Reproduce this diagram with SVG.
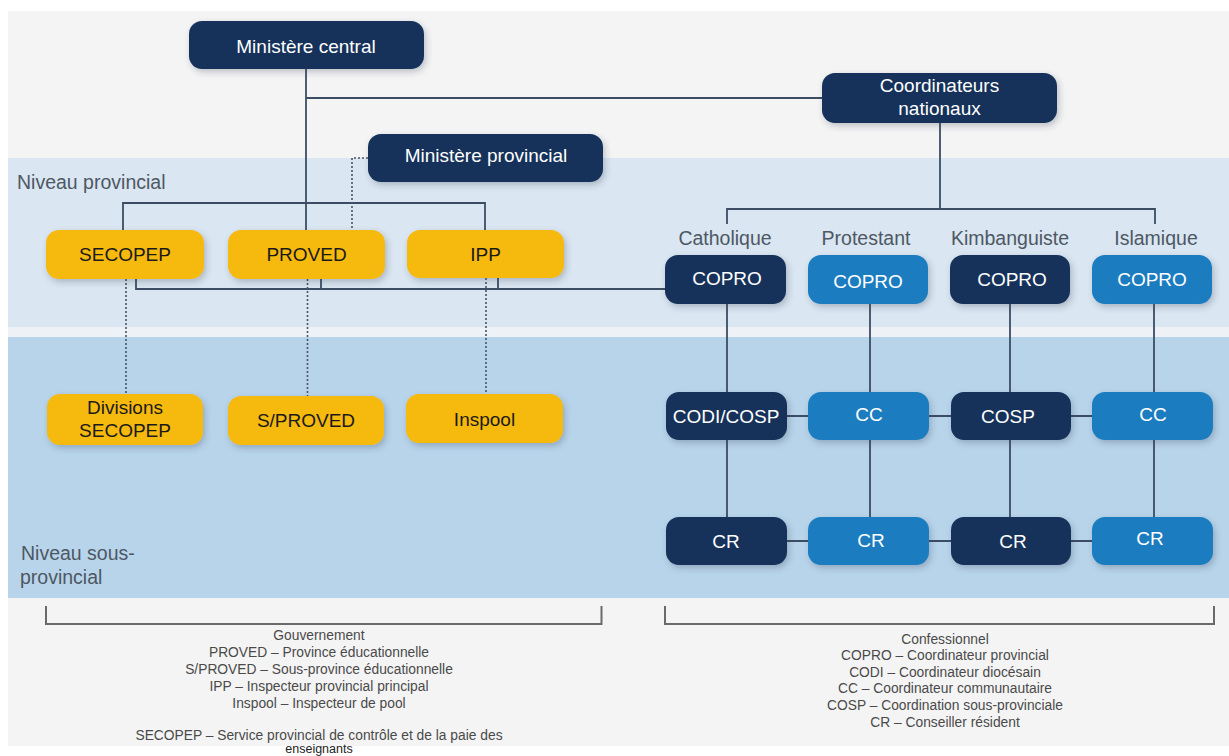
<svg xmlns="http://www.w3.org/2000/svg" width="1229" height="756" viewBox="0 0 1229 756">
  <defs>
    <filter id="sh" x="-20%" y="-30%" width="140%" height="170%">
      <feDropShadow dx="2" dy="3" stdDeviation="3" flood-color="#2a3b4f" flood-opacity="0.28"/>
    </filter>
  </defs>
  <style>
    .navy { fill: #15325a; }
    .blue { fill: #1b7cc0; }
    .yel { fill: #f6b90f; }
    .nt { font-family: "Liberation Sans", Arial, sans-serif; font-size: 19px; fill: #ffffff; text-anchor: middle; }
    .yt { font-family: "Liberation Sans", Arial, sans-serif; font-size: 19px; fill: #1a1a1a; text-anchor: middle; }
    .lbl { font-family: "Liberation Sans", Arial, sans-serif; font-size: 19.5px; fill: #4d5864; }
    .lc { text-anchor: middle; }
    .leg { font-family: "Liberation Sans", Arial, sans-serif; font-size: 13.8px; fill: #4a4a4a; text-anchor: middle; }
    .ln { fill: none; stroke: #3c4d63; stroke-width: 1.8; }
    .dot { fill: none; stroke: #4a5563; stroke-width: 1.6; stroke-dasharray: 2 2; }
    .br { fill: none; stroke: #6a6a6a; stroke-width: 2; }
  </style>

  <!-- background -->
  <rect x="0" y="0" width="1229" height="756" fill="#ffffff"/>
  <rect x="8" y="11" width="1221" height="735" fill="#f4f4f4"/>
  <rect x="8" y="158" width="1221" height="169" fill="#dae6f1"/>
  <rect x="8" y="327" width="1221" height="10" fill="#eef2f6"/>
  <rect x="8" y="337" width="1221" height="261" fill="#b8d4ea"/>

  <!-- level labels -->
  <text class="lbl" x="17" y="189">Niveau provincial</text>
  <text class="lbl" x="21" y="560">Niveau sous-</text>
  <text class="lbl" x="20" y="584">provincial</text>

  <!-- connectors -->
  <g id="connectors">
    <path class="ln" d="M306 69 V230"/>
    <path class="ln" d="M306 98 H822"/>
    <path class="ln" d="M123 230 V203 H485 V231"/>
    <path class="ln" d="M136 279 V289 H665"/>
    <path class="ln" d="M321 279 V289"/>
    <path class="ln" d="M498 278 V289"/>
    <path class="ln" d="M940 123 V209"/>
    <path class="ln" d="M727 224 V209 H1155 V224"/>
    <path class="dot" d="M368 158 H352 V230"/>
    <path class="dot" d="M126 279 V394"/>
    <path class="dot" d="M307.5 279 V396"/>
    <path class="dot" d="M486 278 V394"/>
    <path class="ln" d="M727 304 V392 M727 440 V517"/>
    <path class="ln" d="M870 304 V392 M870 440 V517"/>
    <path class="ln" d="M1010 304 V392 M1010 440 V517"/>
    <path class="ln" d="M1154 304 V392 M1154 440 V517"/>
    <path class="ln" d="M787 416 H808 M929 416 H951 M1071 416 H1092"/>
    <path class="ln" d="M787 541 H808 M929 541 H951 M1071 541 H1092"/>
  </g>

  <!-- nodes -->
  <g id="ministere-central">
    <rect class="navy" filter="url(#sh)" x="189" y="21" width="235" height="48" rx="13"/>
    <text class="nt" x="306" y="53">Ministère central</text>
  </g>
  <g id="coordinateurs-nationaux">
    <rect class="navy" filter="url(#sh)" x="822" y="73" width="235" height="50" rx="13"/>
    <text class="nt" x="939.5" y="92">Coordinateurs</text>
    <text class="nt" x="939.5" y="115">nationaux</text>
  </g>
  <g id="ministere-provincial">
    <rect class="navy" filter="url(#sh)" x="368" y="134" width="235" height="48" rx="13"/>
    <text class="nt" x="486" y="162">Ministère provincial</text>
  </g>

  <g id="secopep">
    <rect class="yel" filter="url(#sh)" x="46" y="230" width="158" height="49" rx="13"/>
    <text class="yt" x="125" y="261">SECOPEP</text>
  </g>
  <g id="proved">
    <rect class="yel" filter="url(#sh)" x="228" y="230" width="157" height="49" rx="13"/>
    <text class="yt" x="306.5" y="261">PROVED</text>
  </g>
  <g id="ipp">
    <rect class="yel" filter="url(#sh)" x="407" y="230" width="157" height="48" rx="13"/>
    <text class="yt" x="485.5" y="261">IPP</text>
  </g>
  <g id="divisions-secopep">
    <rect class="yel" filter="url(#sh)" x="47" y="394" width="156" height="51" rx="13"/>
    <text class="yt" x="125" y="414">Divisions</text>
    <text class="yt" x="125" y="437">SECOPEP</text>
  </g>
  <g id="s-proved">
    <rect class="yel" filter="url(#sh)" x="228" y="396" width="156" height="49" rx="13"/>
    <text class="yt" x="306" y="427">S/PROVED</text>
  </g>
  <g id="inspool">
    <rect class="yel" filter="url(#sh)" x="406" y="394" width="157" height="49" rx="13"/>
    <text class="yt" x="484.5" y="426">Inspool</text>
  </g>

  <!-- confession labels -->
  <text class="lbl lc" x="725" y="245">Catholique</text>
  <text class="lbl lc" x="866" y="245">Protestant</text>
  <text class="lbl lc" x="1010" y="245">Kimbanguiste</text>
  <text class="lbl lc" x="1156" y="245">Islamique</text>

  <g id="copro-catholique">
    <rect class="navy" filter="url(#sh)" x="665" y="255" width="121" height="49" rx="13"/>
    <text class="nt" x="727" y="285">COPRO</text>
  </g>
  <g id="copro-protestant">
    <rect class="blue" filter="url(#sh)" x="808" y="255" width="120" height="49" rx="13"/>
    <text class="nt" x="868" y="288">COPRO</text>
  </g>
  <g id="copro-kimbanguiste">
    <rect class="navy" filter="url(#sh)" x="950" y="255" width="120" height="49" rx="13"/>
    <text class="nt" x="1012" y="286">COPRO</text>
  </g>
  <g id="copro-islamique">
    <rect class="blue" filter="url(#sh)" x="1092" y="255" width="120" height="49" rx="13"/>
    <text class="nt" x="1152" y="286">COPRO</text>
  </g>

  <g id="codi-cosp">
    <rect class="navy" filter="url(#sh)" x="666" y="392" width="121" height="48" rx="13"/>
    <text class="nt" x="726" y="423">CODI/COSP</text>
  </g>
  <g id="cc-protestant">
    <rect class="blue" filter="url(#sh)" x="808" y="392" width="121" height="48" rx="13"/>
    <text class="nt" x="869" y="421">CC</text>
  </g>
  <g id="cosp-kimbanguiste">
    <rect class="navy" filter="url(#sh)" x="951" y="392" width="120" height="48" rx="13"/>
    <text class="nt" x="1008" y="423">COSP</text>
  </g>
  <g id="cc-islamique">
    <rect class="blue" filter="url(#sh)" x="1092" y="392" width="121" height="48" rx="13"/>
    <text class="nt" x="1153" y="421">CC</text>
  </g>

  <g id="cr-catholique">
    <rect class="navy" filter="url(#sh)" x="666" y="517" width="121" height="48" rx="13"/>
    <text class="nt" x="726" y="548">CR</text>
  </g>
  <g id="cr-protestant">
    <rect class="blue" filter="url(#sh)" x="808" y="517" width="121" height="48" rx="13"/>
    <text class="nt" x="871" y="547">CR</text>
  </g>
  <g id="cr-kimbanguiste">
    <rect class="navy" filter="url(#sh)" x="951" y="517" width="120" height="48" rx="13"/>
    <text class="nt" x="1013" y="548">CR</text>
  </g>
  <g id="cr-islamique">
    <rect class="blue" filter="url(#sh)" x="1092" y="517" width="121" height="48" rx="13"/>
    <text class="nt" x="1150" y="545">CR</text>
  </g>

  <!-- brackets -->
  <path class="br" d="M46 606 V624 H601.5 V606"/>
  <path class="br" d="M665 606 V624 H1214 V606"/>

  <!-- legends -->
  <g id="legend-gouvernement">
    <text class="leg" x="319" y="640">Gouvernement</text>
    <text class="leg" x="319" y="657">PROVED – Province éducationnelle</text>
    <text class="leg" x="319" y="674">S/PROVED – Sous-province éducationnelle</text>
    <text class="leg" x="319" y="691">IPP – Inspecteur provincial principal</text>
    <text class="leg" x="319" y="708">Inspool – Inspecteur de pool</text>
    <text class="leg" x="319" y="740">SECOPEP – Service provincial de contrôle et de la paie des</text>
    <text class="leg" x="319" y="752.5" style="fill:#222;font-size:12.5px">enseignants</text>
  </g>
  <g id="legend-confessionnel">
    <text class="leg" x="945" y="644">Confessionnel</text>
    <text class="leg" x="945" y="660">COPRO – Coordinateur provincial</text>
    <text class="leg" x="945" y="677">CODI – Coordinateur diocésain</text>
    <text class="leg" x="945" y="693">CC – Coordinateur communautaire</text>
    <text class="leg" x="945" y="710">COSP – Coordination sous-provinciale</text>
    <text class="leg" x="945" y="727">CR – Conseiller résident</text>
  </g>
</svg>
